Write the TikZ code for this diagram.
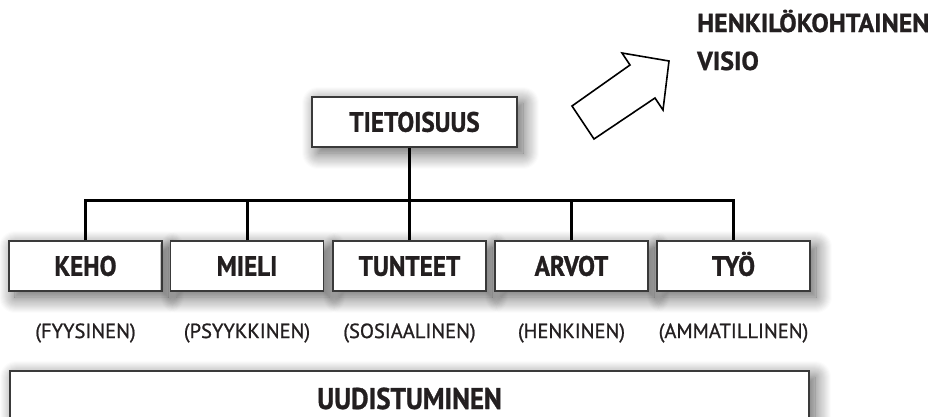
\documentclass[tikz,border=0pt]{standalone}
\usepackage{fontspec}
\setmainfont{PT Sans}[BoldFeatures={FakeBold=1.0, FakeStretch=0.9}]
\newfontfamily\notefont{PT Sans}[FakeBold=1.0]
\newfontfamily\headfont{PT Sans}[BoldFeatures={FakeBold=1.0}]
\usetikzlibrary{shadows.blur}
\definecolor{ink}{HTML}{231F20}
\definecolor{frame}{HTML}{3A3A3A}
\tikzset{
  softshadow/.style={blur shadow={shadow xshift=6pt, shadow yshift=-6pt,
      shadow blur radius=16pt, shadow blur steps=16, shadow opacity=65}},
  box/.style={draw=frame, line width=1.5pt, fill=white, inner sep=0pt,
      text=ink, font=\bfseries\fontsize{28}{30}\selectfont,
      text height=19.5pt, text depth=0pt, softshadow},
  dimbox/.style={box, minimum width=153pt, minimum height=50pt},
  sublabel/.style={text=ink, inner sep=0pt, font=\notefont\fontsize{20.5}{24}\selectfont},
  conn/.style={line width=3pt, black},
}
\begin{document}
\begin{tikzpicture}[x=1pt,y=-1pt]
  \useasboundingbox (0,0) rectangle (938,416);

  % top box
  \node[box, minimum width=205pt, minimum height=50pt] (tie) at (414.5,122) {TIETOISUUS};

  % five dimension boxes
  \node[dimbox] (keho)  at (85.5,266)  {KEHO};
  \node[dimbox] (mieli) at (247,266)   {MIELI};
  \node[dimbox] (tunt)  at (409.5,266) {TUNTEET};
  \node[dimbox] (arvot) at (571.5,266) {ARVOT};
  \node[dimbox] (tyo)   at (733.5,266) {TYÖ};

  % labels under the boxes
  \node[sublabel] (l1) at (85.5,333)  {(FYYSINEN)};
  \node[sublabel] (l2) at (247,333)   {(PSYYKKINEN)};
  \node[sublabel] (l3) at (409.5,333) {(SOSIAALINEN)};
  \node[sublabel] (l4) at (571.5,333) {(HENKINEN)};
  \node[sublabel] (l5) at (733.5,333) {(AMMATILLINEN)};

  % wide bottom box, running past the lower edge
  \node[box, minimum width=799pt, minimum height=70pt, text height=0pt] (uud) at (409.5,406) {};
  \node[text=ink, font=\bfseries\fontsize{30}{32}\selectfont, inner sep=0pt, anchor=base]
        (uudt) at (409.5,409) {UUDISTUMINEN};

  % tree connectors
  \coordinate (bus) at (0,200.5);
  \draw[conn] (tunt.north) -- (tunt.north |- tie.south);
  \draw[conn] (keho.north) -- (keho.north |- bus) -- (tyo.north |- bus) -- (tyo.north);
  \draw[conn] (mieli.north) -- (mieli.north |- bus);
  \draw[conn] (arvot.north) -- (arvot.north |- bus);

  % hollow arrow towards the vision
  \draw[line width=1.6pt, black, fill=white, line join=miter]
    (572,106) -- (630,65) -- (622,53) -- (669,61) -- (663,110) -- (655,98) -- (594,139) -- cycle;

  \node[text=ink, font=\headfont\bfseries\fontsize{26}{38}\selectfont, align=left, inner sep=0pt,
        anchor=base west] (visio) at (697,70) {HENKILÖKOHTAINEN\\VISIO};
\end{tikzpicture}
\end{document}
